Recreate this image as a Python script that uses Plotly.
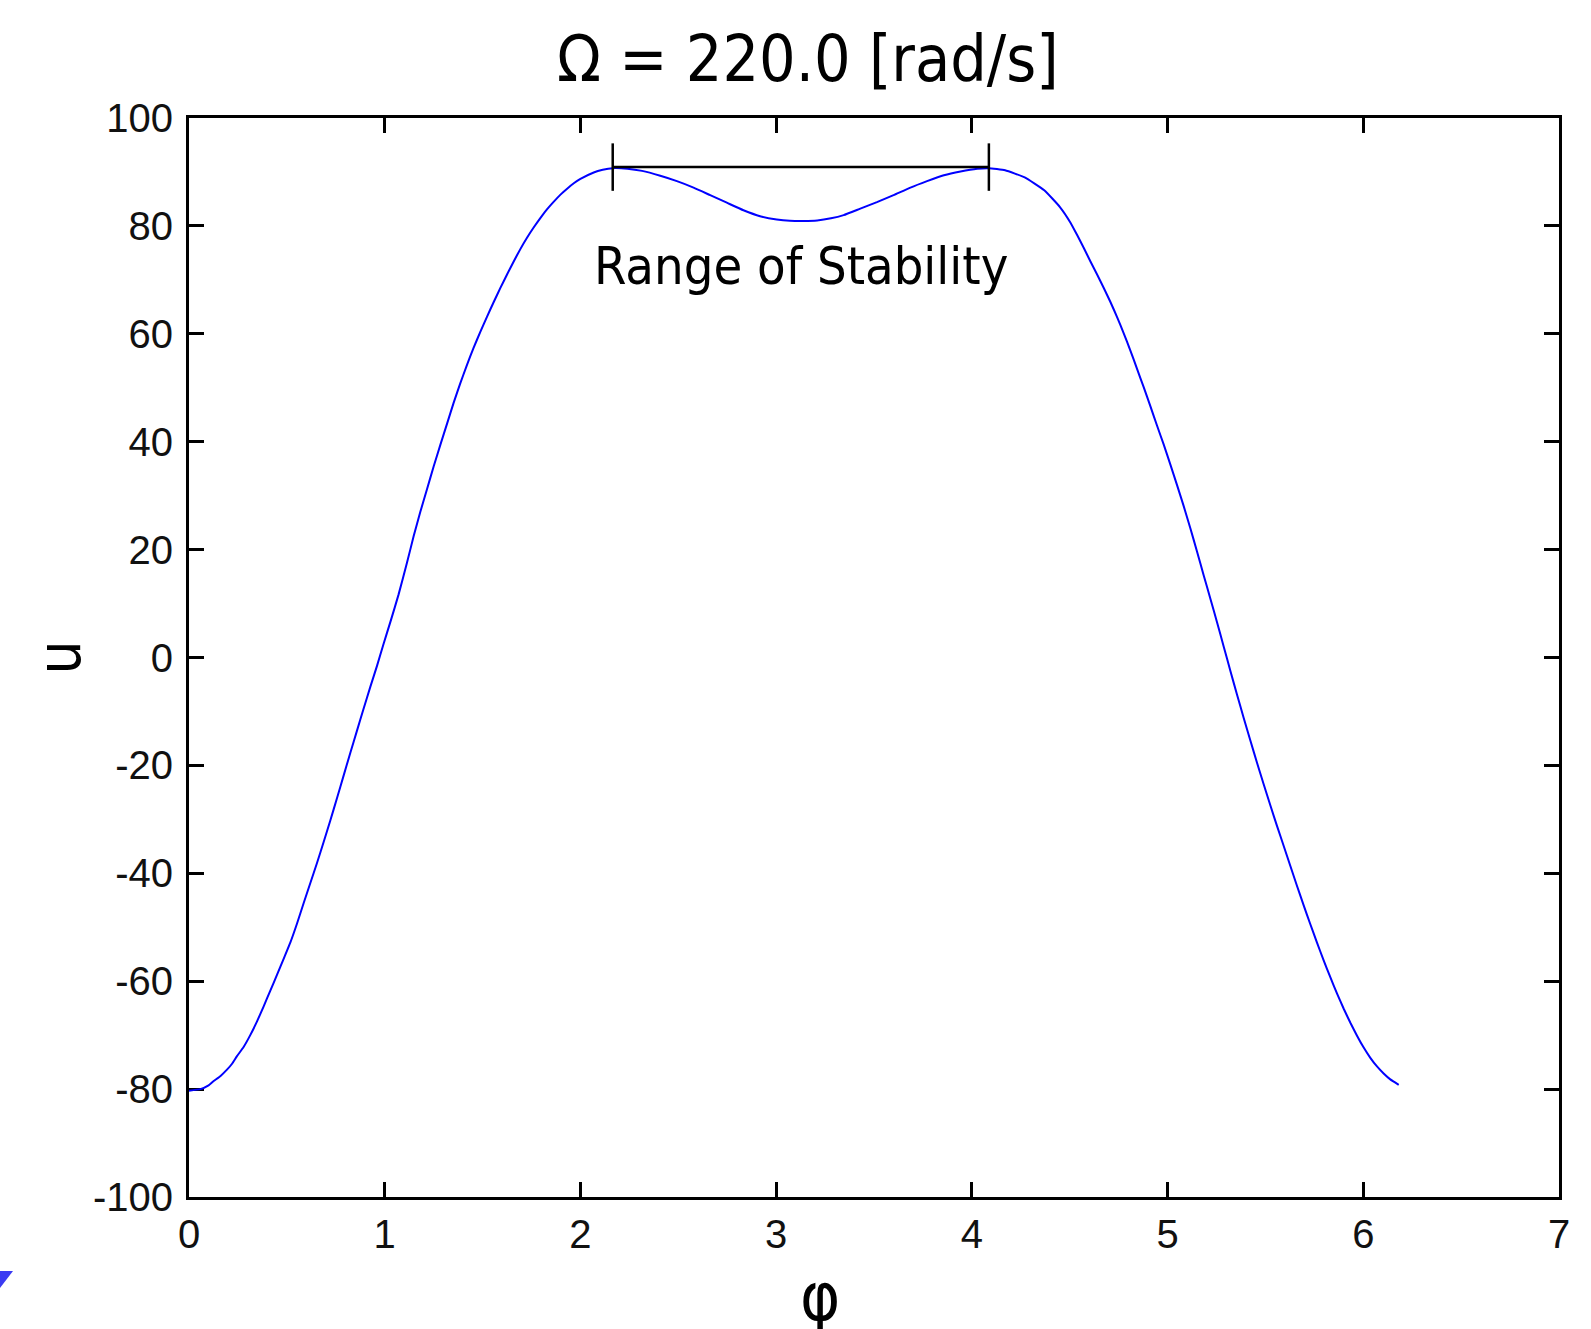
import plotly.graph_objects as go

# --- data ---
phi = [0, 0.058, 0.1, 0.126, 0.16, 0.194, 0.22, 0.245, 0.279, 0.313, 0.347, 0.381,
       0.415, 0.45, 0.483, 0.518, 0.552, 0.586, 0.62, 0.654, 0.688, 0.722, 0.756,
       0.79, 0.824, 0.858, 0.892, 0.926, 0.961, 0.994, 1.029, 1.071, 1.114, 1.148,
       1.182, 1.216, 1.25, 1.285, 1.319, 1.352, 1.386, 1.42, 1.454, 1.489, 1.523,
       1.557, 1.591, 1.625, 1.659, 1.693, 1.727, 1.761, 1.796, 1.83, 1.864, 1.898,
       1.932, 1.966, 2.0, 2.068, 2.114, 2.165,
       2.24, 2.315, 2.408, 2.493, 2.578, 2.663, 2.748, 2.833, 2.918, 3.003, 3.07,
       3.14, 3.21, 3.28, 3.345, 3.43, 3.515, 3.6, 3.686, 3.771, 3.857, 3.942, 4.028,
       4.087,
       4.17, 4.27, 4.37, 4.45, 4.504, 4.538, 4.572, 4.606, 4.64, 4.674, 4.708, 4.742,
       4.776, 4.81, 4.844, 4.878, 4.912, 4.946, 4.98, 5.014, 5.048, 5.082, 5.116,
       5.15, 5.184, 5.218, 5.253, 5.287, 5.321, 5.355, 5.389, 5.423, 5.457, 5.491,
       5.525, 5.559, 5.593, 5.627, 5.661, 5.695, 5.729, 5.763, 5.797, 5.832, 5.866,
       5.9, 5.934, 5.968, 6.002, 6.036, 6.07, 6.104, 6.138, 6.181]
u = [-80.3, -80.0, -79.3, -78.5, -77.6, -76.4, -75.3, -73.9, -72.2, -70.0, -67.5, -64.7,
     -61.8, -58.8, -55.9, -52.8, -49.3, -45.5, -41.8, -38.1, -34.2, -30.2, -26.1,
     -21.9, -17.7, -13.6, -9.5, -5.5, -1.5, 2.5, 6.6, 11.7, 17.6, 22.5,
     27.0, 31.2, 35.4, 39.5, 43.4, 47.2, 50.8, 54.2, 57.4, 60.4, 63.2,
     65.9, 68.5, 71.0, 73.4, 75.7, 77.8, 79.7, 81.5, 83.1, 84.5, 85.8,
     86.9, 87.9, 88.7, 89.9, 90.4, 90.7,
     90.6, 90.2, 89.3, 88.3, 87.1, 85.7, 84.3, 82.9, 81.8, 81.2, 80.95,
     80.9, 81.0, 81.4, 82.0, 83.2, 84.4, 85.7, 87.1, 88.3, 89.4, 90.1, 90.6,
     90.7,
     90.3, 89.0, 86.6, 83.5, 80.6, 78.3, 75.9, 73.4, 71.0, 68.5, 65.9, 63.1,
     60.1, 56.9, 53.5, 50.1, 46.6, 43.0, 39.5, 35.8, 32.0, 28.1, 24.0,
     19.7, 15.3, 11.0, 6.5, 2.0, -2.5, -6.9, -11.2, -15.4, -19.5, -23.5,
     -27.4, -31.2, -34.9, -38.6, -42.3, -45.9, -49.4, -52.8, -56.1, -59.3, -62.3,
     -65.1, -67.7, -70.1, -72.3, -74.2, -75.8, -77.1, -78.2, -79.2]

stability_bounds = [2.165, 4.087]
stability_level = 90.9
stability_tick_halfspan = 4.4
stability_label = "Range of Stability"
label_pos = [3.127, 72.6]

title_text = "Ω = 220.0 [rad/s]"
x_title = "φ"
y_title = "u"
x_ticks = [0, 1, 2, 3, 4, 5, 6, 7]
y_ticks = [-100, -80, -60, -40, -20, 0, 20, 40, 60, 80, 100]

W, H = 1591, 1329
ML, MR, MT, MB = 189, 32, 118, 132
pw, ph = W - ML - MR, H - MT - MB

fig = go.Figure()
fig.add_trace(go.Scatter(x=phi, y=u, mode="lines",
                         line=dict(color="#0000ff", width=2, shape="spline", smoothing=0.4),
                         showlegend=False, hoverinfo="skip", cliponaxis=False))

# stability bracket
fig.add_trace(go.Scatter(x=stability_bounds, y=[stability_level] * 2, mode="lines",
                         line=dict(color="black", width=2.5), showlegend=False,
                         hoverinfo="skip"))
for b in stability_bounds:
    fig.add_trace(go.Scatter(x=[b, b],
                             y=[stability_level - stability_tick_halfspan,
                                stability_level + stability_tick_halfspan],
                             mode="lines", line=dict(color="black", width=2.5),
                             showlegend=False, hoverinfo="skip"))

tickfont = dict(family="Liberation Sans, Arial, sans-serif", size=40, color="#111111")
axis_common = dict(showline=True, linecolor="black", linewidth=3, mirror="ticks",
                   ticks="inside", ticklen=15, tickwidth=3, tickcolor="black",
                   showgrid=False, zeroline=False, tickfont=tickfont,
                   layer="below traces")

fig.update_xaxes(range=[0, 7], tickvals=x_ticks, ticktext=[str(t) for t in x_ticks],
                 **axis_common)
fig.update_yaxes(range=[-100, 100], tickvals=y_ticks, ticktext=[str(t) for t in y_ticks],
                 ticklabelstandoff=5, **axis_common)

labfont = "DejaVu Sans Condensed, DejaVu Sans, sans-serif"
anns = [
    dict(text=title_text, x=(808 - ML) / pw, y=(H - MB - 59) / ph, xref="paper",
         yref="paper", showarrow=False, xanchor="center", yanchor="middle",
         font=dict(family=labfont, size=64, color="black")),
    dict(text=x_title, x=(820 - ML) / pw, y=(H - MB - 1296) / ph, xref="paper",
         yref="paper", showarrow=False, xanchor="center", yanchor="middle",
         font=dict(family=labfont, size=68, color="black")),
    dict(text=y_title, x=(58 - ML) / pw, y=0.5, xref="paper", yref="paper",
         showarrow=False, xanchor="center", yanchor="middle", textangle=-90,
         font=dict(family=labfont, size=60, color="black")),
    dict(text=stability_label, x=label_pos[0], y=label_pos[1], xref="x", yref="y",
         showarrow=False, xanchor="center", yanchor="middle",
         font=dict(family=labfont, size=52, color="black")),
]

# decorative slide triangle at bottom-left
tri = dict(type="path", xref="paper", yref="paper",
           path="M {0},{1} L {2},{1} L {0},{3} Z".format(
               (0 - ML) / pw, (H - MB - 1271) / ph, (13 - ML) / pw, (H - MB - 1288) / ph),
           fillcolor="#3b3bf2", line=dict(width=0))

fig.update_layout(width=W, height=H, margin=dict(l=ML, r=MR, t=MT, b=MB),
                  plot_bgcolor="white", paper_bgcolor="white",
                  annotations=anns, shapes=[tri], showlegend=False)

fig.write_html("out.html", config={"displayModeBar": False},
               post_script="document.body.style.margin='0';")
